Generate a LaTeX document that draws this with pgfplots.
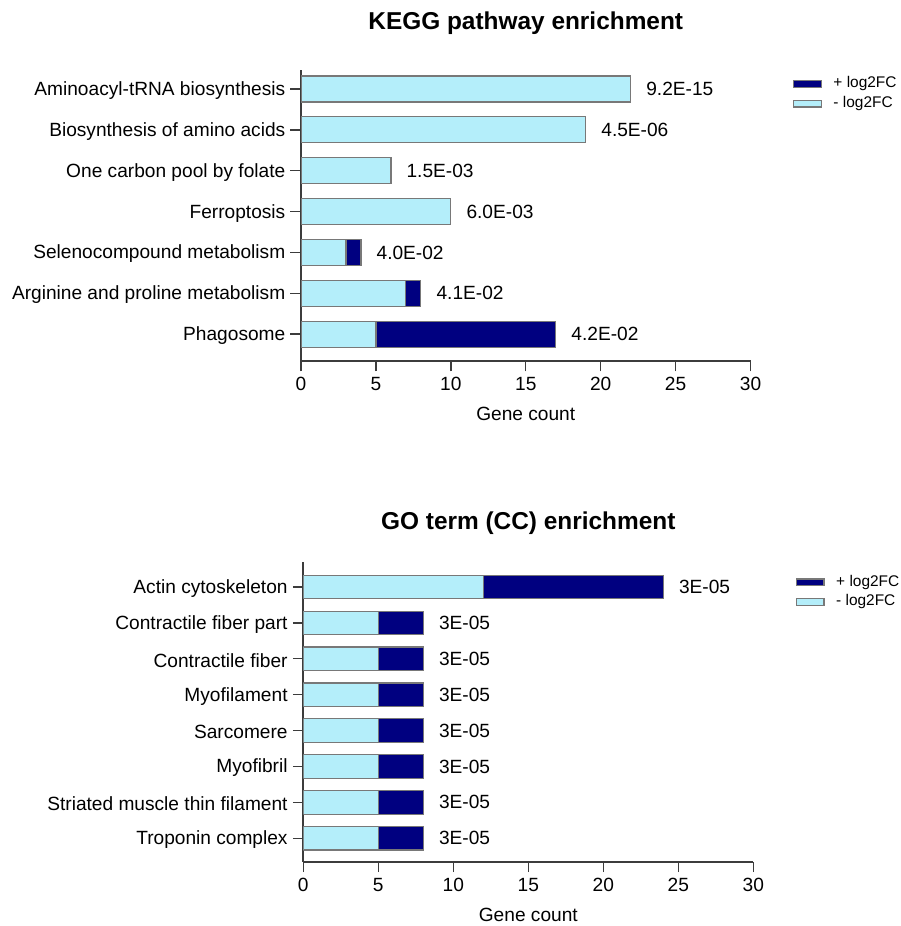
\documentclass[border=0pt]{standalone}
\usepackage{fontspec}
\setmainfont{Liberation Sans}
\usepackage{pgfplots}
\usepackage{pgfplotstable}
\pgfplotsset{compat=1.18}

\definecolor{negcol}{RGB}{180,238,250}
\definecolor{poscol}{RGB}{0,0,128}
\definecolor{edgecol}{RGB}{120,120,120}
\definecolor{axcol}{RGB}{60,60,60}

% KEGG pathways: y position, genes with -log2FC, genes with +log2FC, p-value
\pgfplotstableread{
y neg pos pval
6 22 0  9.2E-15
5 19 0  4.5E-06
4 6  0  1.5E-03
3 10 0  6.0E-03
2 3  1  4.0E-02
1 7  1  4.1E-02
0 5  12 4.2E-02
}\keggdata

% GO cellular component terms
\pgfplotstableread{
y neg pos pval
7 12 12 3E-05
6 5  3  3E-05
5 5  3  3E-05
4 5  3  3E-05
3 5  3  3E-05
2 5  3  3E-05
1 5  3  3E-05
0 5  3  3E-05
}\godata

\pgfplotsset{
  enrbar/.style={
    xbar stacked,
    scale only axis,
    xmin=0, xmax=30,
    xtick={0,5,...,30},
    axis x line*=bottom,
    axis y line*=left,
    axis line style={draw=axcol, line width=1.6bp},
    tick align=outside,
    major tick length=10.5bp,
    tick style={draw=axcol, line width=1.4bp},
    tick label style={font=\fontsize{19.2}{22}\selectfont},
    xticklabel style={yshift=-2.5bp},
    /pgf/number format/assume math mode=true,
    yticklabel style={inner xsep=5bp, yshift=-1.5bp},
    xlabel={Gene count},
    every axis x label/.style={at={(axis description cs:0.5,0)}, anchor=center,
      yshift=-53bp, font=\fontsize{19.2}{22}\selectfont},
    title style={font=\fontsize{24.5}{28}\selectfont\bfseries},
    reverse legend,
    legend style={draw=none, fill=none, inner sep=0pt, outer sep=0pt,
      font=\fontsize{15.5}{18}\selectfont, row sep=5.7bp,
      nodes={inner sep=0pt, text height=11bp, text depth=3bp},
      cells={anchor=west}},
    legend image code/.code={\draw[#1] (0bp,-3.3bp) rectangle (27.4bp,3.3bp);
      \path (39bp,0bp);},
    negbar/.style={fill=negcol, draw=edgecol, line width=1.2bp},
    posbar/.style={fill=poscol, draw=edgecol, line width=1.2bp},
  },
  % overlay axis carrying the p-value labels at the end of each stacked bar
  pvallabels/.style={
    hide axis,
    scale only axis,
    xmin=0, xmax=30,
    point meta=explicit symbolic,
    nodes near coords,
    nodes near coords style={font=\fontsize{19.2}{22}\selectfont, anchor=west,
      inner sep=0pt, xshift=15.5bp},
  },
}

\begin{document}
\begin{tikzpicture}
\path[use as bounding box] (0,0) rectangle (901bp,926bp);

% ---- KEGG ----
\begin{axis}[enrbar,
  at={(301bp,565bp)}, anchor=south west,
  width=449.5bp, height=291bp,
  ymin=-0.656, ymax=6.465,
  bar width=26bp,
  ytick={0,...,6},
  yticklabels={Phagosome, Arginine and proline metabolism, Selenocompound metabolism,
    Ferroptosis, One carbon pool by folate, Biosynthesis of amino acids,
    Aminoacyl-tRNA biosynthesis},
  title={KEGG pathway enrichment},
  title style={at={(axis description cs:0.5,1)}, anchor=center, yshift=41bp},
  legend style={at={(axis description cs:1.0952,0.9760)}, anchor=north west},
]
\addplot[negbar] table[x=neg, y=y] {\keggdata};
\addlegendentry{- log2FC}
\addplot[posbar] table[x=pos, y=y] {\keggdata};
\addlegendentry{+ log2FC}
\end{axis}
\begin{axis}[pvallabels,
  at={(301bp,565bp)}, anchor=south west,
  width=449.5bp, height=291bp,
  ymin=-0.656, ymax=6.465,
]
\addplot[draw=none, mark=none] table[x expr=\thisrow{neg}+\thisrow{pos}, y=y, meta=pval] {\keggdata};
\end{axis}

% ---- GO CC ----
\begin{axis}[enrbar,
  at={(303.3bp,64.3bp)}, anchor=south west,
  width=450bp, height=299.4bp,
  ymin=-0.652, ymax=7.688,
  bar width=23.5bp,
  ytick={0,...,7},
  yticklabels={Troponin complex, Striated muscle thin filament, Myofibril, Sarcomere,
    Myofilament, Contractile fiber, Contractile fiber part, Actin cytoskeleton},
  title={GO term (CC) enrichment},
  title style={at={(axis description cs:0.5,1)}, anchor=center, yshift=33.3bp},
  legend style={at={(axis description cs:1.0949,0.9566)}, anchor=north west},
]
\addplot[negbar] table[x=neg, y=y] {\godata};
\addlegendentry{- log2FC}
\addplot[posbar] table[x=pos, y=y] {\godata};
\addlegendentry{+ log2FC}
\end{axis}
\begin{axis}[pvallabels,
  at={(303.3bp,64.3bp)}, anchor=south west,
  width=450bp, height=299.4bp,
  ymin=-0.652, ymax=7.688,
]
\addplot[draw=none, mark=none] table[x expr=\thisrow{neg}+\thisrow{pos}, y=y, meta=pval] {\godata};
\end{axis}
\end{tikzpicture}
\end{document}
